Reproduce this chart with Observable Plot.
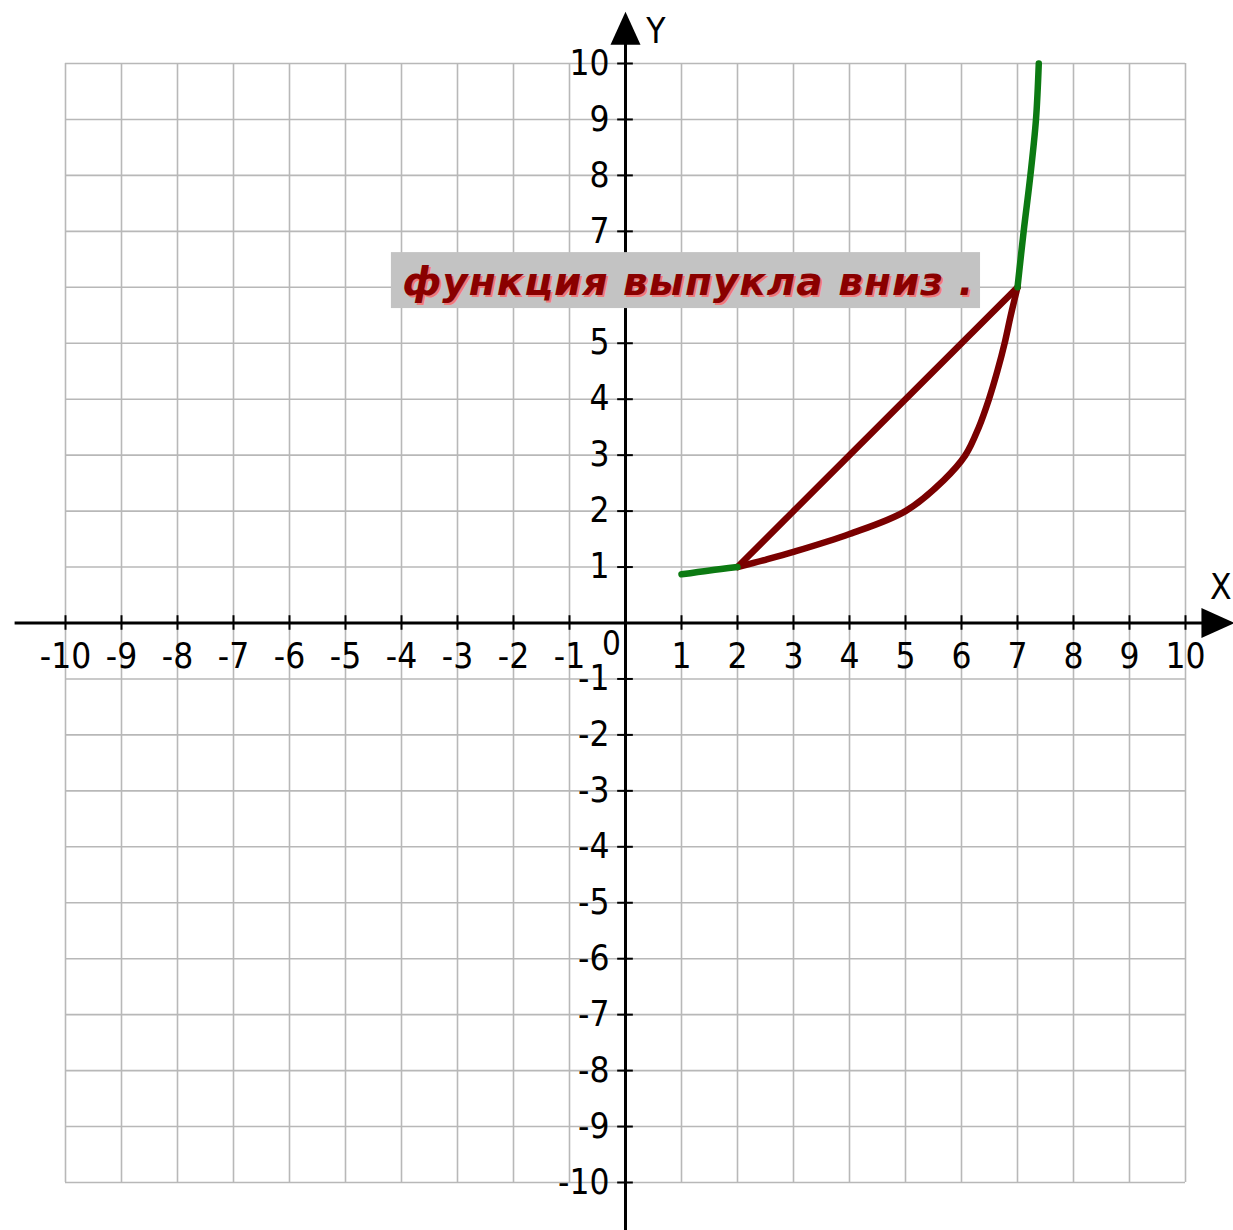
<!DOCTYPE html>
<html>
<head>
<meta charset="utf-8">
<script src="https://cdn.jsdelivr.net/npm/d3@7"></script>
<script src="https://cdn.jsdelivr.net/npm/@observablehq/plot@0.6"></script>
<style>
  html, body { margin: 0; padding: 0; background: #fff; }
  #chart svg { display: block; }
  .note text { letter-spacing: 1px; }
  .nums text { font-stretch: condensed; }
</style>
</head>
<body>
<div id="chart"></div>
<script>
// ---- data ----
const gridValues = [-10, -9, -8, -7, -6, -5, -4, -3, -2, -1, 0, 1, 2, 3, 4, 5, 6, 7, 8, 9, 10];
const tickValues = [-10, -9, -8, -7, -6, -5, -4, -3, -2, -1, 1, 2, 3, 4, 5, 6, 7, 8, 9, 10];
const tickLabels = ["-10", "-9", "-8", "-7", "-6", "-5", "-4", "-3", "-2", "-1", "1", "2", "3", "4", "5", "6", "7", "8", "9", "10"];
const originLabel = "0";
const axisNames = ["X", "Y"];

// green part left of x = 2
const greenLeftX = [1, 1.5, 2];
const greenLeftY = [0.87, 0.94, 1.0];
// dark red convex arc from (2,1) to (7,6)
const arcX = [2, 2.5, 3, 4, 5, 5.68, 6.07, 6.31, 6.49, 6.64, 6.77, 6.88, 7];
const arcY = [1, 1.13, 1.27, 1.59, 2.0, 2.55, 3.0, 3.5, 4.0, 4.5, 5.0, 5.5, 6.0];
// chord from (2,1) to (7,6)
const chordX = [2, 7];
const chordY = [1, 6];
// green part above (7,6)
const greenUpX = [7, 7.11, 7.23, 7.33, 7.38];
const greenUpY = [6, 7, 8, 9, 10];

const noteText = "функция выпукла вниз .";
const noteBox = {x1: -4.18, x2: 6.34, y1: 5.62, y2: 6.62, tx: -3.98, ty: 6.08};

// ---- helpers ----
const pts = (xs, ys) => xs.map((x, i) => ({x, y: ys[i]}));
const ticksData = tickValues.map((v, i) => ({v, label: tickLabels[i]}));

const arrowUp = {draw(ctx) { ctx.moveTo(0, -17); ctx.lineTo(15, 16); ctx.lineTo(-15, 16); ctx.closePath(); }};
const arrowRight = {draw(ctx) { ctx.moveTo(17, 0); ctx.lineTo(-16, 15); ctx.lineTo(-16, -15); ctx.closePath(); }};

const numFont = "'Liberation Sans Narrow', 'DejaVu Sans Condensed', 'Liberation Sans', sans-serif";
const gridColor = "#b8b8b8";
const red = "#7a0000";
const green = "#0c7a12";

const chart = Plot.plot({
  width: 1233,
  height: 1230,
  marginLeft: 65,
  marginRight: 48,
  marginTop: 63,
  marginBottom: 48,
  x: {domain: [-10, 10], axis: null},
  y: {domain: [-10, 10], axis: null},
  style: {background: "#fff", overflow: "visible"},
  marks: [
    // grid
    Plot.ruleX(gridValues, {x: d => d, y1: () => -10, y2: () => 10, stroke: gridColor, strokeWidth: 1.6}),
    Plot.ruleY(gridValues, {y: d => d, x1: () => -10, x2: () => 10, stroke: gridColor, strokeWidth: 1.6}),
    // axes
    Plot.ruleY([0], {y: d => d, x1: () => -10.9, x2: () => 10.6, stroke: "#000", strokeWidth: 3}),
    Plot.ruleX([0], {x: d => d, y1: () => -10.9, y2: () => 10.6, stroke: "#000", strokeWidth: 3}),
    Plot.dot([0], {x: () => 0, y: () => 10.62, symbol: arrowUp, fill: "#000", stroke: null}),
    Plot.dot([0], {x: () => 10.57, y: () => 0, symbol: arrowRight, fill: "#000", stroke: null}),
    // tick marks
    Plot.ruleX(tickValues, {x: d => d, y1: () => -0.13, y2: () => 0.13, stroke: "#000", strokeWidth: 2}),
    Plot.ruleY(tickValues, {y: d => d, x1: () => -0.14, x2: () => 0.14, stroke: "#000", strokeWidth: 2}),
    // tick labels
    Plot.text(ticksData, {x: d => d.v, y: () => 0, dy: 34, text: d => d.label, fontSize: 35,
      fontFamily: numFont, fill: "#000", textAnchor: "middle", className: "nums"}),
    Plot.text(ticksData, {x: () => 0, y: d => d.v, dx: -16, text: d => d.label, fontSize: 35,
      fontFamily: numFont, fill: "#000", textAnchor: "end", className: "nums"}),
    Plot.text([originLabel], {x: () => 0, y: () => 0, dx: -14, dy: 21, text: d => d, fontSize: 33,
      fontFamily: numFont, fill: "#000", className: "nums"}),
    // axis names
    Plot.text([axisNames[0]], {x: () => 10.63, y: () => 0.63, text: d => d, fontSize: 35,
      fontFamily: numFont, fill: "#000", className: "nums"}),
    Plot.text([axisNames[1]], {x: () => 0.54, y: () => 10.57, text: d => d, fontSize: 35,
      fontFamily: numFont, fill: "#000", className: "nums"}),
    // annotation box (covers axis and labels)
    Plot.rect([noteBox], {x1: d => d.x1, x2: d => d.x2, y1: d => d.y1, y2: d => d.y2, fill: "#c3c3c3"}),
    Plot.text([noteBox], {x: d => d.tx, y: d => d.ty, text: () => noteText, textAnchor: "start",
      fontSize: 39, fontWeight: "bold", fontStyle: "italic", fontFamily: "'DejaVu Sans', sans-serif",
      fill: "#f07a7a", dx: 2, dy: 1.5, className: "note"}),
    Plot.text([noteBox], {x: d => d.tx, y: d => d.ty, text: () => noteText, textAnchor: "start",
      fontSize: 39, fontWeight: "bold", fontStyle: "italic", fontFamily: "'DejaVu Sans', sans-serif",
      fill: "#8a0000", className: "note"}),
    // curves
    Plot.line(pts(chordX, chordY), {x: "x", y: "y", stroke: red, strokeWidth: 6.5}),
    Plot.line(pts(arcX, arcY), {x: "x", y: "y", stroke: red, strokeWidth: 6.5, curve: "catmull-rom"}),
    Plot.line(pts(greenLeftX, greenLeftY), {x: "x", y: "y", stroke: green, strokeWidth: 6.5, curve: "catmull-rom"}),
    Plot.line(pts(greenUpX, greenUpY), {x: "x", y: "y", stroke: green, strokeWidth: 6.5, curve: "catmull-rom"})
  ]
});
document.getElementById("chart").appendChild(chart);
</script>
</body>
</html>
